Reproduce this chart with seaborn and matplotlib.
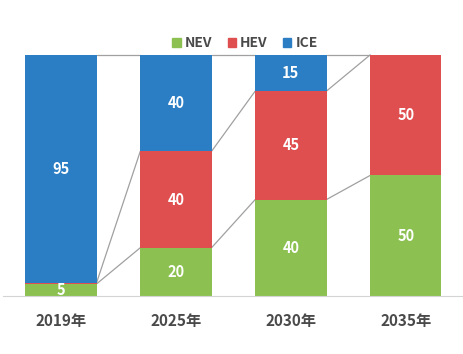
import numpy as np
import seaborn as sns
import matplotlib.pyplot as plt
from matplotlib.patches import Patch

# data (percent share)
years = ['2019年', '2025年', '2030年', '2035年']
nev = [5, 20, 40, 50]
hev = [0.5, 40, 45, 50]
ice = [94.5, 40, 15, 0]

colors = {'NEV': '#8cc152', 'HEV': '#e04f4f', 'ICE': '#2b7ec3'}

sns.set_style('white')
plt.rcParams['font.family'] = ['Noto Sans CJK SC', 'DejaVu Sans']

fig = plt.figure(figsize=(4.64, 3.54), dpi=100)
ax = fig.add_axes([0.0075, 0.164, 0.991, 0.681])

# stacked bars
bottom = np.zeros(len(years))
tops = []
for name, vals in [('NEV', nev), ('HEV', hev), ('ICE', ice)]:
    sns.barplot(x=years, y=vals, bottom=bottom, color=colors[name],
                width=0.62, ax=ax, saturation=1, linewidth=0)
    bottom = bottom + np.array(vals)
    tops.append(bottom.copy())

# value labels (the 2019 HEV sliver gets none)
bottom = np.zeros(len(years))
for vals in [nev, hev, ice]:
    for i, v in enumerate(vals):
        if v >= 3:
            ax.text(i, bottom[i] + v / 2, str(int(v + 0.5)), ha='center', va='center',
                    color='white', fontsize=10.5, fontweight='bold')
    bottom = bottom + np.array(vals)

# series lines between bars
half = 0.31
for t in tops:
    for i in range(len(years) - 1):
        ax.plot([i + half, i + 1 - half], [t[i], t[i + 1]], color='#a0a0a0',
                lw=0.9, zorder=0, clip_on=False)

ax.set_xlim(-0.5, 3.5)
ax.set_ylim(0, 100)
ax.set_yticks([])
ax.set_xlabel('')
ax.set_ylabel('')
for s in ['top', 'left', 'right']:
    ax.spines[s].set_visible(False)
ax.spines['bottom'].set_color('#d4d4d4')
ax.tick_params(axis='x', length=0, pad=12, labelsize=11, labelcolor='#4a4a4a')
for lab in ax.get_xticklabels():
    lab.set_fontweight('bold')

handles = [Patch(color=colors[k]) for k in ['NEV', 'HEV', 'ICE']]
leg = fig.legend(handles, ['NEV', 'HEV', 'ICE'], loc='center', bbox_to_anchor=(0.528, 0.878),
                 ncol=3, frameon=False, fontsize=10, handlelength=0.6, handleheight=0.6,
                 handletextpad=0.3, columnspacing=1.1, labelcolor='#4a4a4a')
for t in leg.get_texts():
    t.set_fontweight('bold')

fig.savefig('out.png', dpi=100)
